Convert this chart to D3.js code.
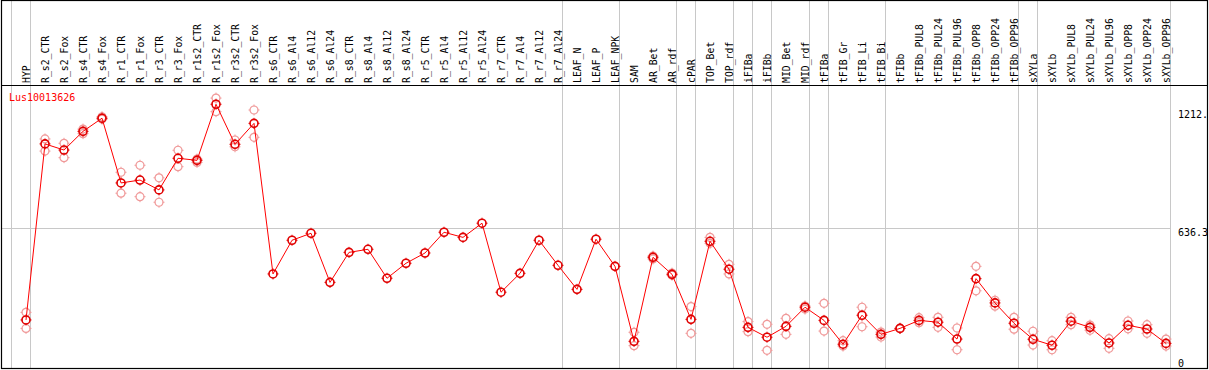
<!DOCTYPE html>
<html><head><meta charset="utf-8">
<script src="https://cdn.jsdelivr.net/npm/d3@7"></script>
<style>html,body{margin:0;padding:0;background:#fff;overflow:hidden}</style>
</head><body>
<svg id="c" width="1209" height="370"></svg>
<script>
const categories = ["HYP","R_s2_CTR","R_s2_Fox","R_s4_CTR","R_s4_Fox","R_r1_CTR","R_r1_Fox","R_r3_CTR","R_r3_Fox","R_r1s2_CTR","R_r1s2_Fox","R_r3s2_CTR","R_r3s2_Fox","R_s6_CTR","R_s6_Al4","R_s6_Al12","R_s6_Al24","R_s8_CTR","R_s8_Al4","R_s8_Al12","R_s8_Al24","R_r5_CTR","R_r5_Al4","R_r5_Al12","R_r5_Al24","R_r7_CTR","R_r7_Al4","R_r7_Al12","R_r7_Al24","LEAF_N","LEAF_P","LEAF_NPK","SAM","AR_Bet","AR_rdf","cPAR","TOP_Bet","TOP_rdf","iFIBa","iFIBb","MID_Bet","MID_rdf","tFIBa","tFIB_Gr","tFIB_Li","tFIB_Bi","tFIBb","tFIBb_PUL8","tFIBb_PUL24","tFIBb_PUL96","tFIBb_OPP8","tFIBb_OPP24","tFIBb_OPP96","sXYLa","sXYLb","sXYLb_PUL8","sXYLb_PUL24","sXYLb_PUL96","sXYLb_OPP8","sXYLb_OPP24","sXYLb_OPP96"];
const meanValues = [190,1047,1017,1108,1172,857,871,823,977,967,1240,1045,1147,414,578,612,373,519,534,393,466,516,617,592,661,325,417,578,456,339,583,451,86,495,412,193,573,437,154,106,159,252,188,72,213,120,149,188,179,97,391,273,174,96,67,184,154,78,164,146,76];
const rep1Values = [227,1071,1050,1119,1179,909,943,882,1016,973,1270,1066,1212,null,null,null,null,null,null,null,null,null,null,null,null,null,null,null,null,null,null,null,130,501,418,255,592,461,182,169,198,258,271,89,252,131,149,201,203,151,451,286,203,135,89,203,165,99,185,167,97];
const rep2Values = [149,1012,980,1097,1168,807,790,763,936,957,1204,1033,1079,null,null,null,null,null,null,null,null,null,null,null,null,null,null,null,null,null,null,null,65,487,408,125,563,414,133,42,120,243,136,63,157,107,149,177,154,45,332,257,145,68,45,167,140,52,147,125,63];
const groupEnds = [-1,0,28,31,34,35,37,38,39,41,42,45,52,53,60];
const axisLabels = [{v:1212,t:"1212."},{v:636.3,t:"636.3"},{v:0,t:"0"}];
const geneName = "Lus10013626";

const svg = d3.select("#c");
const font = "'DejaVu Sans Mono', 'Liberation Mono', monospace";

const x = d3.scaleLinear().domain([0, categories.length - 1]).range([26, 26 + 19 * (categories.length - 1)]);
const y = d3.scaleLinear().domain([0, 1212]).range([359, 110]);
const gx = d => Math.floor(x(d) + 4.5) + 0.5;

// vertical group separators
svg.append("g").selectAll("line").data(groupEnds).join("line")
  .attr("x1", gx).attr("x2", gx)
  .attr("y1", 0).attr("y2", 369).attr("stroke", "#c8c8c8").attr("stroke-width", 1);

// horizontal grid at mid label
svg.append("line").attr("x1", 2).attr("x2", gx(60))
  .attr("y1", Math.round(y(636.3)) + 0.5).attr("y2", Math.round(y(636.3)) + 0.5)
  .attr("stroke", "#c8c8c8");

// frame
svg.append("rect").attr("x", 1.5).attr("y", 0.5).attr("width", 1206).attr("height", 368)
  .attr("fill", "none").attr("stroke", "#000").attr("stroke-width", 1.2);
svg.append("line").attr("x1", 1).attr("x2", 1208).attr("y1", 85.5).attr("y2", 85.5).attr("stroke", "#000");

// header labels
svg.append("g").selectAll("text").data(categories).join("text")
  .attr("transform", (d, i) => `translate(${x(i) + 3.5},83) rotate(-90)`)
  .attr("font-family", font).attr("font-size", "9.8px").attr("fill", "#000")
  .text(d => d);

// gene label
svg.append("text").attr("x", 9).attr("y", 101).attr("font-family", font).attr("font-size", "10px")
  .attr("fill", "#ff0000").text(geneName);

// right axis labels
svg.append("g").selectAll("text").data(axisLabels).join("text")
  .attr("x", 1178).attr("y", d => y(d.v) + 8)
  .attr("font-family", font).attr("font-size", "10px").attr("fill", "#000")
  .text(d => d.t);

function marker(g, data, color, sw) {
  const m = g.selectAll("g").data(data).join("g")
    .attr("transform", d => `translate(${x(d.i)},${y(d.v)})`);
  m.append("circle").attr("r", 4).attr("fill", "none").attr("stroke", color).attr("stroke-width", sw);
  m.append("path").attr("d", "M0,-5.5V-3.5M0,3.5V5.5M-5.5,0H-3.5M3.5,0H5.5")
    .attr("stroke", color).attr("stroke-width", 1);
}

const reps = [];
rep1Values.forEach((v, i) => { if (v != null) reps.push({i, v}); });
rep2Values.forEach((v, i) => { if (v != null) reps.push({i, v}); });
marker(svg.append("g"), reps, "#f09a9a", 1.2);

const line = d3.line().x((d, i) => x(i)).y(d => y(d));
svg.append("path").datum(meanValues).attr("d", line).attr("fill", "none")
  .attr("stroke", "#ff0000").attr("stroke-width", 1);

marker(svg.append("g"), meanValues.map((v, i) => ({i, v})), "#e00000", 1.6);
</script>
</body></html>
